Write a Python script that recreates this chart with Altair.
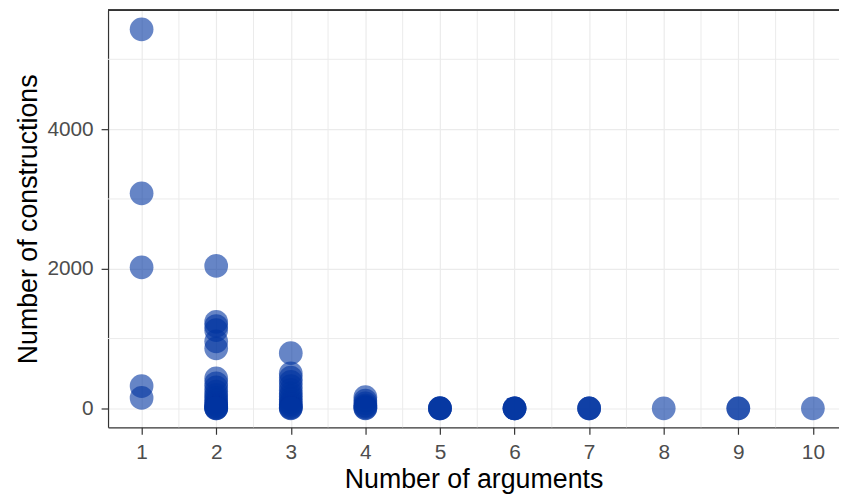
import altair as alt
import pandas as pd

# Data
args = (
    [1, 1, 1, 1, 1]
    + [2] * 20
    + [3] * 15
    + [4] * 7
    + [5] * 4
    + [6] * 4
    + [7] * 3
    + [8]
    + [9] * 2
    + [10]
)
counts = (
    [5430, 3080, 2020, 320, 150]
    + [2040, 1240, 1180, 1120, 960, 860, 430, 360, 300, 240, 190, 150, 110, 80, 50, 30, 15, 5, 0, 0]
    + [790, 500, 440, 380, 320, 260, 210, 170, 130, 90, 60, 35, 15, 5, 0]
    + [160, 110, 70, 40, 20, 5, 0]
    + [0, 0, 0, 2]
    + [0, 0, 0, 1]
    + [0, 0, 0]
    + [0]
    + [0, 1]
    + [0]
)
x_ticks = [1, 2, 3, 4, 5, 6, 7, 8, 9, 10]
y_ticks = [0, 2000, 4000]
minor_x = [1.5, 2.5, 3.5, 4.5, 5.5, 6.5, 7.5, 8.5, 9.5]
minor_y = [1000, 3000, 5000]

W, H = 738, 421

df = pd.DataFrame({"args": args, "count": counts})
mx = pd.DataFrame({"v": minor_x})
my = pd.DataFrame({"v": minor_y})

xscale = alt.Scale(domain=[0.55, 10.35], nice=False, zero=False)
yscale = alt.Scale(domain=[-271.5, 5701.5], nice=False, zero=False)

grid_color = "#ebebeb"
border = "#333333"

xaxis = alt.Axis(title="Number of arguments", values=x_ticks, format="d", grid=True,
                 domain=True, domainColor=border, domainWidth=1.2)
yaxis = alt.Axis(title="Number of constructions", values=y_ticks, format="d", grid=True,
                 domain=True, domainColor=border, domainWidth=1.2)

points = alt.Chart(df).mark_circle(size=573, color="#0033a0", opacity=0.6).encode(
    x=alt.X("args:Q", scale=xscale, axis=xaxis),
    y=alt.Y("count:Q", scale=yscale, axis=yaxis),
)

minor_v = alt.Chart(mx).mark_rule(color=grid_color, strokeWidth=1).encode(
    x=alt.X("v:Q", scale=xscale, axis=xaxis)
)
minor_h = alt.Chart(my).mark_rule(color=grid_color, strokeWidth=1).encode(
    y=alt.Y("v:Q", scale=yscale, axis=yaxis)
)
top_border = alt.Chart(mx).mark_rule(color=border, strokeWidth=1.2).encode(
    y=alt.value(0), x=alt.value(0), x2=alt.value(W)
)

chart = (
    alt.layer(minor_v, minor_h, points, top_border)
    .properties(
        width=W,
        height=H,
        autosize=alt.AutoSizeParams(type="none"),
        padding={"left": 101, "top": 0, "right": 0, "bottom": 68},
    )
    .configure_view(strokeWidth=0)
    .configure_axis(
        gridColor=grid_color,
        gridWidth=1.2,
        tickColor=border,
        tickSize=7,
        tickWidth=1.2,
        labelFont="Liberation Sans",
        labelFontSize=21,
        labelColor="#4d4d4d",
        titleFont="Liberation Sans",
        titleFontSize=27,
        titleFontWeight="normal",
        titleColor="#000000",
    )
    .configure_axisX(labelPadding=7, titlePadding=5)
    .configure_axisY(labelPadding=8, titlePadding=4)
)

chart.save("out.html", embed_options={"renderer": "svg", "actions": False})
